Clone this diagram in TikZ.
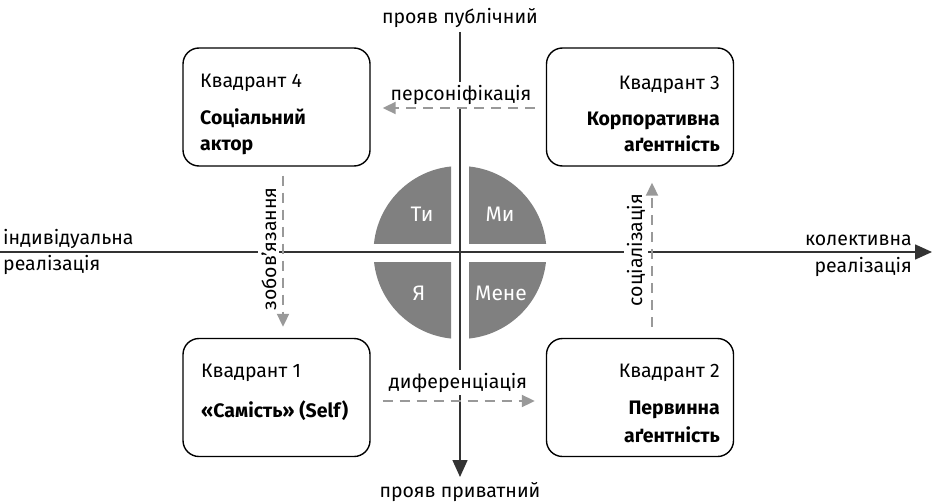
\documentclass[tikz,border=0pt]{standalone}
\usepackage{fontspec}
\setmainfont{Fira Sans}
\usetikzlibrary{arrows.meta}
\definecolor{axisc}{HTML}{333333}
\definecolor{dashc}{HTML}{999999}
\definecolor{quadc}{HTML}{808080}
\begin{document}
\begin{tikzpicture}[x=1pt,y=-1pt,
  every node/.style={font=\fontsize{19.5}{23}\selectfont, inner sep=0pt},
  qbox/.style={draw=black, line width=1.4pt, rounded corners=16pt, minimum width=187pt, minimum height=118pt, fill=white},
  qname/.style={font=\fontsize{19.5}{23}\selectfont\bfseries},
  axisline/.style={draw=axisc, line width=1.5pt, -{Triangle[length=17pt,width=15pt]}},
  dasharrow/.style={draw=dashc, line width=2pt, dash pattern=on 10pt off 7pt, -{Triangle[length=13pt,width=12pt]}},
  wlabel/.style={fill=white, inner sep=3pt},
  qlabel/.style={text=white, font=\fontsize{21}{24}\selectfont},
]
\useasboundingbox (0,0) rectangle (933,503);

% quarter pieces
\begin{scope}
  \clip (451,243) rectangle (300,100);
  \fill[quadc] (460,252.5) circle[radius=86.5pt];
\end{scope}
\begin{scope}
  \clip (469,243) rectangle (620,100);
  \fill[quadc] (460,252.5) circle[radius=86.5pt];
\end{scope}
\begin{scope}
  \clip (451,262) rectangle (300,400);
  \fill[quadc] (460,252.5) circle[radius=86.5pt];
\end{scope}
\begin{scope}
  \clip (469,262) rectangle (620,400);
  \fill[quadc] (460,252.5) circle[radius=86.5pt];
\end{scope}

\node[qlabel, anchor=base] (qty) at (422,221.7) {Ти};
\node[qlabel, anchor=base] (qmy) at (500,221.7) {Ми};
\node[qlabel, anchor=base] (qya) at (419,300) {Я};
\node[qlabel, anchor=base] (qmene) at (501,300) {Мене};

% axes
\coordinate (hL) at (0,252);
\coordinate (hR) at (932,252);
\coordinate (vT) at (460,32);
\coordinate (vB) at (460,477);
\draw[axisline] (hL) -- (hR);
\draw[axisline] (vT) -- (vB);

% boxes
\node[qbox] (box4) at (276.5,107) {};
\node[qbox] (box3) at (640,107) {};
\node[qbox] (box1) at (276.5,397.5) {};
\node[qbox] (box2) at (640,397.5) {};

\node[anchor=base west] (t4a) at (200,87) {Квадрант 4};
\node[qname, anchor=base west] (t4b) at (200,124) {Соціальний};
\node[qname, anchor=base west] (t4c) at (200,150) {актор};

\node[anchor=base east] (t3a) at (720,89) {Квадрант 3};
\node[qname, anchor=base east] (t3b) at (720,125) {Корпоративна};
\node[qname, anchor=base east] (t3c) at (720,151) {аґентність};

\node[anchor=base west] (t1a) at (201,377) {Квадрант 1};
\node[qname, anchor=base west] (t1b) at (201,417) {«Самість» (Self)};

\node[anchor=base east] (t2a) at (720,377) {Квадрант 2};
\node[qname, anchor=base east] (t2b) at (720,414) {Первинна};
\node[qname, anchor=base east] (t2c) at (720,442) {аґентність};

% axis labels
\node[anchor=base] (ltop) at (460,24) {прояв публічний};
\node[anchor=base] (lbot) at (460,497) {прояв приватний};
\node[anchor=base west] (ll1) at (3,244) {індивідуальна};
\node[anchor=base west] (ll2) at (3,270) {реалізація};
\node[anchor=base east] (lr1) at (912,245) {колективна};
\node[anchor=base east] (lr2) at (912,272) {реалізація};

% transition labels
\node[wlabel, anchor=base] (lpers) at (461,100) {персоніфікація};
\node[wlabel, anchor=base] (ldiff) at (458,388) {диференціація};
\node[wlabel, rotate=90, anchor=base] (lzob) at (276,249) {зобов’язання};
\node[wlabel, rotate=90, anchor=base] (lsoc) at (642,250) {соціалізація};

% transitions
\draw[dasharrow] ([shift={(-11,1)}]box3.west) -- ([shift={(12,1)}]box4.east);
\draw[dasharrow] ([shift={(12,3.5)}]box1.east) -- ([shift={(-11,3.5)}]box2.west);
\draw[dasharrow] ([shift={(6.5,9)}]box4.south) -- ([shift={(6.5,-11)}]box1.north);
\draw[dasharrow] ([shift={(12,-11)}]box2.north) -- ([shift={(12,16)}]box3.south);
\end{tikzpicture}
\end{document}
